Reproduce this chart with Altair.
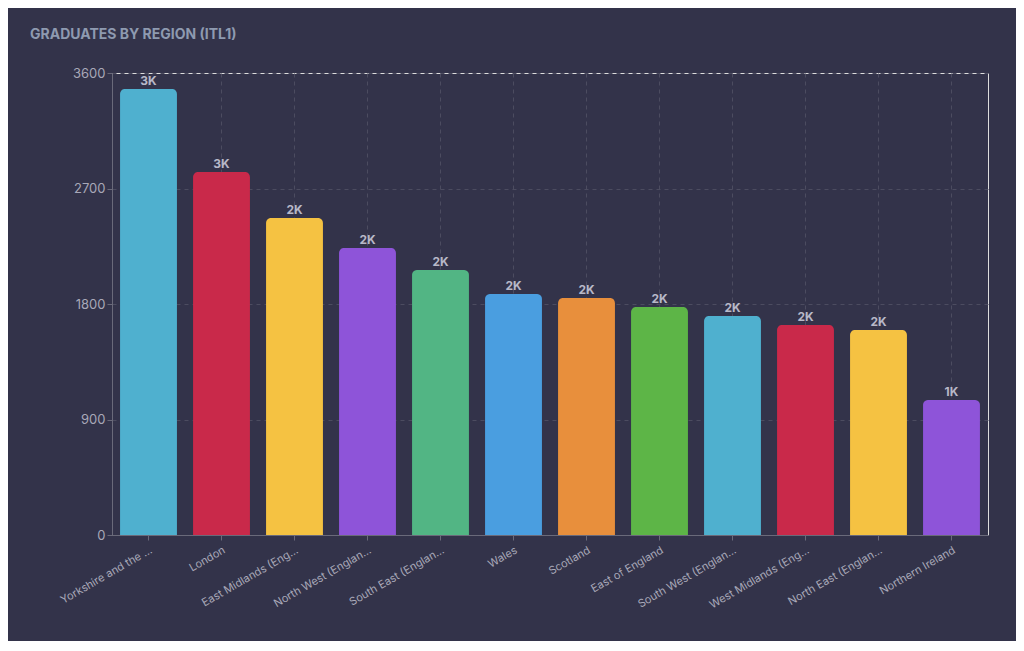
import pandas as pd
import altair as alt

regions = ["Yorkshire and the ...", "London", "East Midlands (Eng...", "North West (Englan...",
           "South East (Englan...", "Wales", "Scotland", "East of England",
           "South West (Englan...", "West Midlands (Eng...", "North East (Englan...", "Northern Ireland"]
graduates = [3476, 2829, 2471, 2237, 2065, 1878, 1847, 1777, 1707, 1637, 1598, 1052]
colors = ["#4fb0cf", "#c9294a", "#f5c242", "#8e54d9", "#52b584", "#4a9ee0",
          "#e88f3c", "#5db547", "#4fb0cf", "#c9294a", "#f5c242", "#8e54d9"]

df = pd.DataFrame({"region": regions, "graduates": graduates, "color": colors})

x = alt.X("region:N", sort=regions, title=None,
          scale=alt.Scale(paddingInner=0.22, paddingOuter=0.11),
          axis=alt.Axis(labelAngle=-30, labelAlign="right", labelColor="#a8a8b8",
                        labelFontSize=11, domainColor="#6a6a7a", tickColor="#6a6a7a",
                        grid=True, gridDash=[4, 4], gridColor="#4c4c60", labelPadding=4))
y = alt.Y("graduates:Q", title=None, scale=alt.Scale(domain=[0, 3600], nice=False),
          axis=alt.Axis(values=[0, 900, 1800, 2700, 3600], format="d", labelColor="#a8a8b8",
                        labelFontSize=13, domainColor="#6a6a7a", tickColor="#6a6a7a",
                        gridDash=[4, 4], gridColor="#4c4c60"))

base = alt.Chart(df)
bars = base.mark_bar(cornerRadiusTopLeft=5, cornerRadiusTopRight=5).encode(
    x=x, y=y, color=alt.Color("color:N", scale=None))
labels = base.mark_text(dy=-8, color="#b8b8c8", fontSize=12, fontWeight="bold").encode(
    x=alt.X("region:N", sort=regions), y="graduates:Q",
    text=alt.Text("k:N")).transform_calculate(
    k="format(datum.graduates / 1000, '.0f') + 'K'")

chart = (bars + labels).properties(
    width=876, height=462,
    background="#33334a",
    padding={"left": 104, "top": 65, "right": 28, "bottom": 106},
    autosize=alt.AutoSizeParams(type="none"),
    title=alt.Title("GRADUATES BY REGION (ITL1)", anchor="start", frame="group", dx=-82,
                    offset=25, color="#8e9ab0", fontSize=14, fontWeight="bold", font="Inter"),
).configure_view(strokeWidth=0).configure(font="Inter")

chart.save("out.html", embed_options={"renderer": "svg", "actions": False})
